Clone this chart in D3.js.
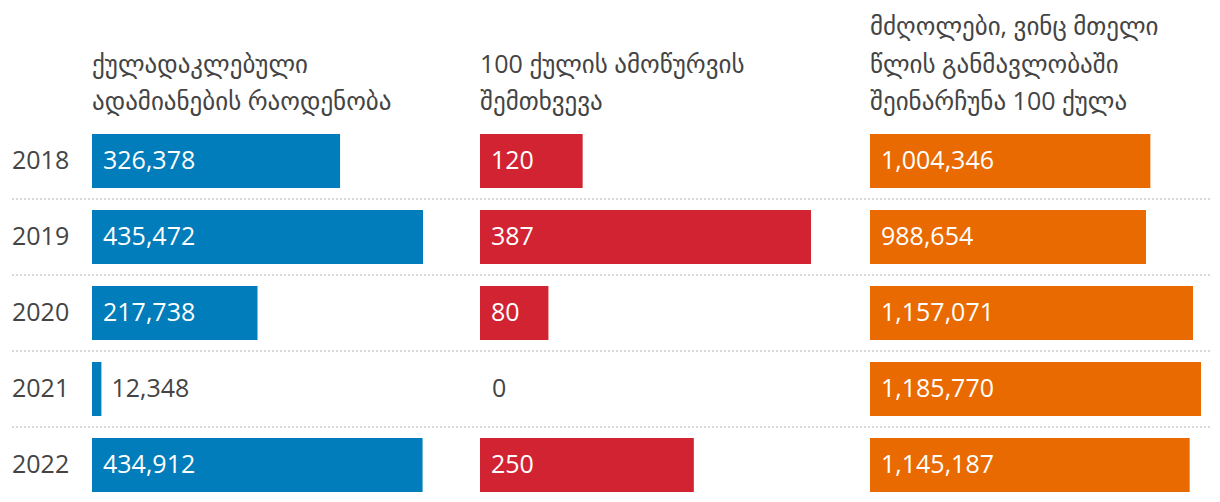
<!DOCTYPE html>
<html><head><meta charset="utf-8">
<script src="https://cdn.jsdelivr.net/npm/d3@7"></script>
<style>
body{margin:0;background:#fff;}
svg text{font-family:"Open Sans","Noto Sans","DejaVu Sans",sans-serif;}
svg text.hdr{text-transform:uppercase;}
</style></head>
<body><svg id="c" width="1220" height="502"></svg>
<script>
const years = ["2018","2019","2020","2021","2022"];
const detained = [326378, 435472, 217738, 12348, 434912];
const exceeded = [120, 387, 80, 0, 250];
const kept = [1004346, 988654, 1157071, 1185770, 1145187];
const headers = [
  ["ქულადაკლებული","ადამიანების რაოდენობა"],
  ["100 ქულის ამოწურვის","შემთხვევა"],
  ["მძღოლები, ვინც მთელი","წლის განმავლობაში","შეინარჩუნა 100 ქულა"]
];
const colors = ["#007dba","#d22333","#e96a00"];
const series = [detained, exceeded, kept];
const colX = [92, 480, 870];
const colW = 331;

const svg = d3.select("#c");
const fmt = d3.format(",");
const y = d3.scaleBand().domain(years).range([134-11, 134+76*5-11]).paddingInner(22/76).paddingOuter(11/76);
const FS = 25;

years.slice(1).forEach(yr=>{
  const yy = y(yr) - 11;
  svg.append("line").attr("x1",12).attr("x2",1210).attr("y1",yy).attr("y2",yy)
    .attr("stroke","#d9d9d9").attr("stroke-width",2).attr("stroke-dasharray","2,2");
});

svg.selectAll("text.year").data(years).join("text").attr("class","year")
  .attr("x",12).attr("y",d=>y(d)+y.bandwidth()/2).attr("dy","0.3em")
  .attr("font-size",FS).attr("fill","#444").text(d=>d);

series.forEach((vals,i)=>{
  const x = d3.scaleLinear().domain([0, d3.max(vals)]).range([colX[i], colX[i]+colW]);
  const g = svg.append("g");
  const lines = headers[i];
  lines.forEach((t,j)=>{
    const base = 110 - (lines.length-1-j)*37.5;
    g.append("text").attr("class","hdr").attr("x",colX[i]).attr("y",base).attr("font-size",FS)
      .attr("fill","#444").text(t);
  });
  g.selectAll("rect").data(vals).join("rect")
    .attr("x",x(0)).attr("y",(d,k)=>y(years[k])).attr("height",y.bandwidth())
    .attr("width",d=>x(d)-x(0)).attr("fill",colors[i]);
  const inside = d => (x(d)-x(0)) > 40;
  g.selectAll("text.val").data(vals).join("text").attr("class","val")
    .attr("x",d=>inside(d) ? x(0)+11 : x(d)+(d===0?12:10))
    .attr("y",(d,k)=>y(years[k])+y.bandwidth()/2).attr("dy","0.3em")
    .attr("font-size",FS)
    .attr("fill",d=>inside(d) ? "#fff" : "#444")
    .text(d=>fmt(d));
});
</script></body></html>
